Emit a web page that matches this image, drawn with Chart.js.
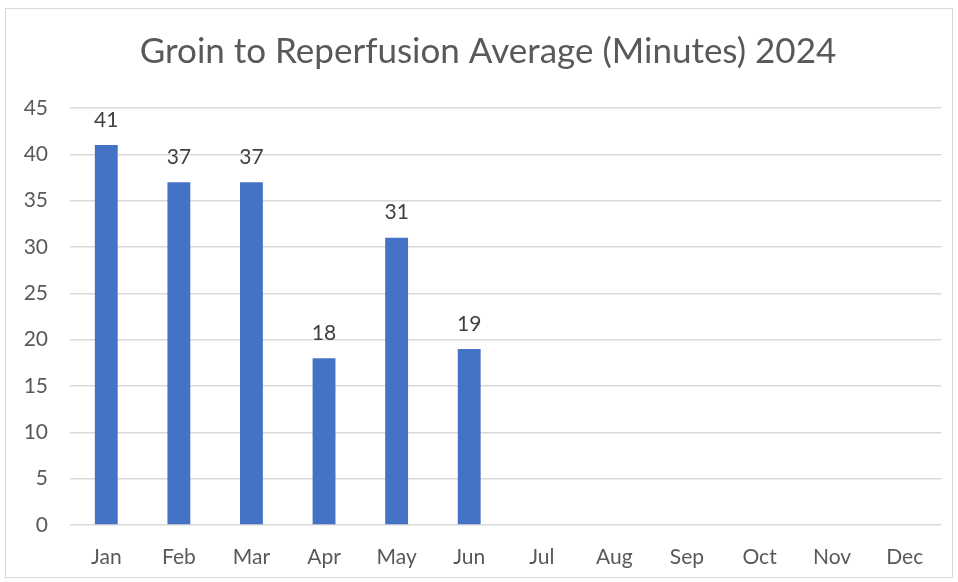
<!DOCTYPE html>
<html>
<head>
<meta charset="utf-8">
<script src="https://cdn.jsdelivr.net/npm/chart.js@4.4.1/dist/chart.umd.min.js"></script>
<style>
  html, body { margin: 0; padding: 0; background: #fff; }
  #frame {
    position: absolute; left: 5px; top: 8px;
    width: 946px; height: 568px;
    border: 1px solid #d9d9d9;
  }
  canvas { display: block; }
</style>
</head>
<body>
<div id="frame"><canvas id="chart" width="946" height="568"></canvas></div>
<script>
// ── DATA ──────────────────────────────────────────
const months = ['Jan', 'Feb', 'Mar', 'Apr', 'May', 'Jun', 'Jul', 'Aug', 'Sep', 'Oct', 'Nov', 'Dec'];
const avgMinutes = [41, 37, 37, 18, 31, 19, null, null, null, null, null, null];
const yMax = 45;
const yStep = 5;
const chartTitle = 'Groin to Reperfusion Average (Minutes) 2024';

const FONT = 'Lato, "Open Sans", sans-serif';
const TEXT = '#595959';

// title drawn by hand so it can sit off-centre like the original
const titlePlugin = {
  id: 'titlePlugin',
  afterDraw(chart) {
    const { ctx } = chart;
    ctx.save();
    ctx.font = '35px ' + FONT;
    ctx.fillStyle = TEXT;
    ctx.textAlign = 'center';
    ctx.textBaseline = 'middle';
    ctx.fillText(chartTitle, 482, 43);
    ctx.restore();
  }
};

// value labels above each bar
const barLabels = {
  id: 'barLabels',
  afterDatasetsDraw(chart) {
    const { ctx } = chart;
    const meta = chart.getDatasetMeta(0);
    ctx.save();
    ctx.font = '21px ' + FONT;
    ctx.fillStyle = '#404040';
    ctx.textAlign = 'center';
    ctx.textBaseline = 'middle';
    meta.data.forEach((bar, i) => {
      const v = avgMinutes[i];
      if (v == null) return;
      ctx.fillText(String(v), bar.x, bar.y - 25);
    });
    ctx.restore();
  }
};

new Chart(document.getElementById('chart'), {
  type: 'bar',
  data: {
    labels: months,
    datasets: [{
      data: avgMinutes,
      backgroundColor: '#4472C4',
      borderWidth: 0,
      barPercentage: 0.63,
      categoryPercentage: 0.5
    }]
  },
  options: {
    responsive: false,
    animation: false,
    layout: { padding: { left: 0, right: 11, top: 99, bottom: 0 } },
    plugins: {
      legend: { display: false },
      tooltip: { enabled: false },
      title: { display: false }
    },
    scales: {
      x: {
        grid: { display: false },
        border: { display: false },
        ticks: { color: TEXT, font: { family: FONT, size: 21 }, padding: 12 },
        afterFit(s) { s.height = 52; }
      },
      y: {
        min: 0,
        max: yMax,
        ticks: { stepSize: yStep, color: TEXT, font: { family: FONT, size: 21 }, padding: 22 },
        grid: { color: '#d9d9d9', lineWidth: 1.5, drawTicks: false },
        border: { display: false },
        afterFit(s) { s.width = 64; }
      }
    }
  },
  plugins: [barLabels, titlePlugin]
});
</script>
</body>
</html>
